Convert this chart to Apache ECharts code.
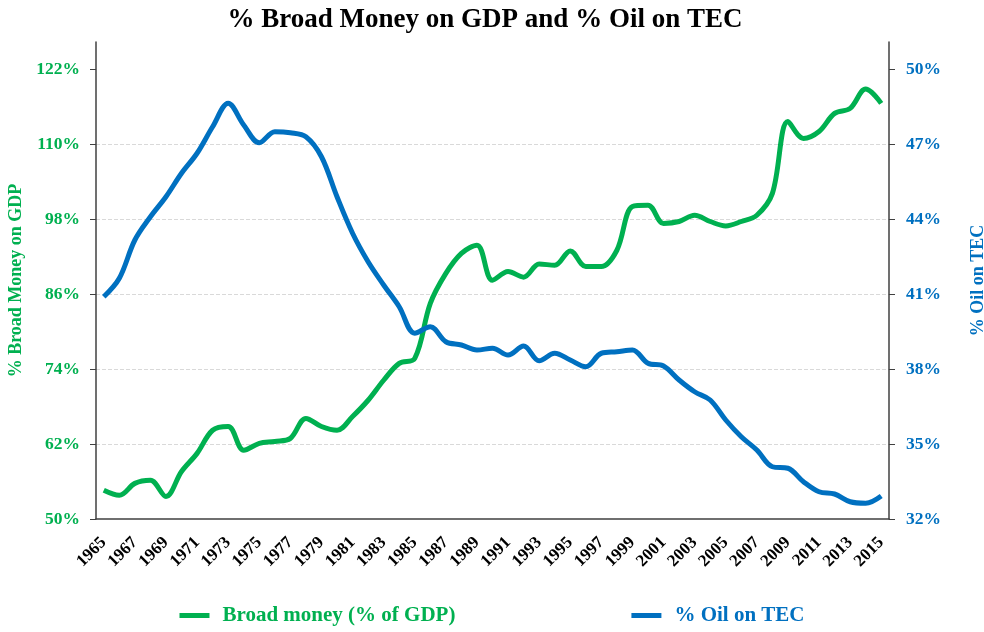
<!DOCTYPE html>
<html>
<head>
<meta charset="utf-8">
<script src="https://cdn.jsdelivr.net/npm/echarts@6/dist/echarts.min.js"></script>
<style>
  html, body { margin: 0; padding: 0; background: #fff; }
  #main { width: 984px; height: 632px; }
</style>
</head>
<body>
<div id="main"></div>
<script>
// 年份
var years = [];
for (var y = 1965; y <= 2015; y++) years.push(String(y));

// 广义货币占GDP (%)
var broadMoney = [
  54.6, 53.8, 55.7, 56.2, 53.6, 57.6, 60.5, 64.2, 64.8, 61.0,
  62.1, 62.4, 62.9, 66.1, 64.8, 64.2, 66.4, 69.0, 72.2, 74.9,
  75.7, 84.5, 89.3, 92.5, 93.8, 88.2, 89.6, 88.7, 90.8, 90.6,
  92.9, 90.4, 90.4, 93.0, 100.0, 100.2, 97.3, 97.6, 98.6, 97.6,
  96.9, 97.6, 98.6, 102.1, 113.6, 110.9, 112.0, 114.9, 115.7, 118.8,
  116.5
];

// 石油占一次能源消费 (%)
var oilOnTec = [
  40.89, 41.63, 43.16, 44.09, 44.89, 45.83, 46.63, 47.69, 48.63, 47.76,
  47.05, 47.49, 47.45, 47.29, 46.49, 44.89, 43.43, 42.29, 41.36, 40.49,
  39.43, 39.69, 39.09, 38.96, 38.76, 38.83, 38.56, 38.92, 38.33, 38.63,
  38.36, 38.09, 38.63, 38.69, 38.76, 38.23, 38.12, 37.56, 37.09, 36.76,
  35.96, 35.29, 34.76, 34.09, 34.03, 33.49, 33.09, 33.00, 32.69, 32.63,
  32.92
];

var leftTicks = [50, 62, 74, 86, 98, 110, 122];
var rightTicks = [32, 35, 38, 41, 44, 47, 50];

var GREEN = '#00B050', BLUE = '#0070C0';
var FONT = 'Liberation Serif';

var myChart = echarts.init(document.getElementById('main'));
var option = {
  animation: false,
  backgroundColor: '#fff',
  title: {
    text: '% Broad Money on GDP and % Oil on TEC',
    left: 480, top: 2, textAlign: 'center',
    textStyle: { fontFamily: FONT, fontWeight: 'bold', fontSize: 27, color: '#000' }
  },
  legend: {
    bottom: 1, left: 'center',
    itemGap: 176, itemWidth: 30, itemHeight: 5,
    icon: 'rect',
    textStyle: { fontFamily: FONT, fontWeight: 'bold', fontSize: 21, padding: [0, 0, 0, 8] },
    data: [
      { name: 'Broad money (% of GDP)', textStyle: { color: GREEN } },
      { name: '% Oil on TEC', textStyle: { color: BLUE } }
    ]
  },
  grid: { left: 96, right: 95, top: 42, bottom: 113, outerBoundsMode: 'none', containLabel: false },
  xAxis: {
    type: 'category',
    data: years,
    boundaryGap: true,
    axisLine: { lineStyle: { color: '#404040', width: 1.5 } },
    axisTick: { interval: 0, length: 6, lineStyle: { color: '#404040' } },
    axisLabel: {
      interval: 1, rotate: 45, margin: 21,
      fontFamily: FONT, fontWeight: 'bold', fontSize: 17, color: '#000'
    },
    splitLine: { show: false }
  },
  yAxis: [
    {
      type: 'value',
      min: 50, max: 126.32, interval: 12,
      position: 'left',
      name: '% Broad Money on GDP',
      nameLocation: 'middle', nameGap: 64, nameRotate: 90,
      nameTextStyle: { fontFamily: FONT, fontWeight: 'bold', fontSize: 18, color: GREEN },
      axisLine: { show: true, lineStyle: { color: '#404040', width: 1.5 } },
      axisTick: { show: true, length: 6, customValues: leftTicks, lineStyle: { color: '#404040' } },
      axisLabel: {
        customValues: leftTicks, margin: 16,
        formatter: '{value}%',
        fontFamily: FONT, fontWeight: 'bold', fontSize: 17.5, color: GREEN
      },
      splitLine: {
        show: true, showMinLine: false, showMaxLine: false,
        lineStyle: { color: '#d9d9d9', type: 'dashed' }
      }
    },
    {
      type: 'value',
      min: 32, max: 51.08, interval: 3,
      position: 'right',
      name: '% Oil on TEC',
      nameLocation: 'middle', nameGap: 80, nameRotate: 90,
      nameTextStyle: { fontFamily: FONT, fontWeight: 'bold', fontSize: 18, color: BLUE },
      axisLine: { show: true, lineStyle: { color: '#404040', width: 1.5 } },
      axisTick: { show: true, length: 6, customValues: rightTicks, lineStyle: { color: '#404040' } },
      axisLabel: {
        customValues: rightTicks, margin: 17,
        formatter: '{value}%',
        fontFamily: FONT, fontWeight: 'bold', fontSize: 17.5, color: BLUE
      },
      splitLine: { show: false }
    }
  ],
  series: [
    {
      name: 'Broad money (% of GDP)',
      type: 'line', yAxisIndex: 0,
      data: broadMoney,
      smooth: 0.35, symbol: 'none',
      lineStyle: { color: GREEN, width: 5 },
      itemStyle: { color: GREEN }
    },
    {
      name: '% Oil on TEC',
      type: 'line', yAxisIndex: 1,
      data: oilOnTec,
      smooth: 0.35, symbol: 'none',
      lineStyle: { color: BLUE, width: 5 },
      itemStyle: { color: BLUE }
    }
  ]
};
myChart.setOption(option);
</script>
</body>
</html>
